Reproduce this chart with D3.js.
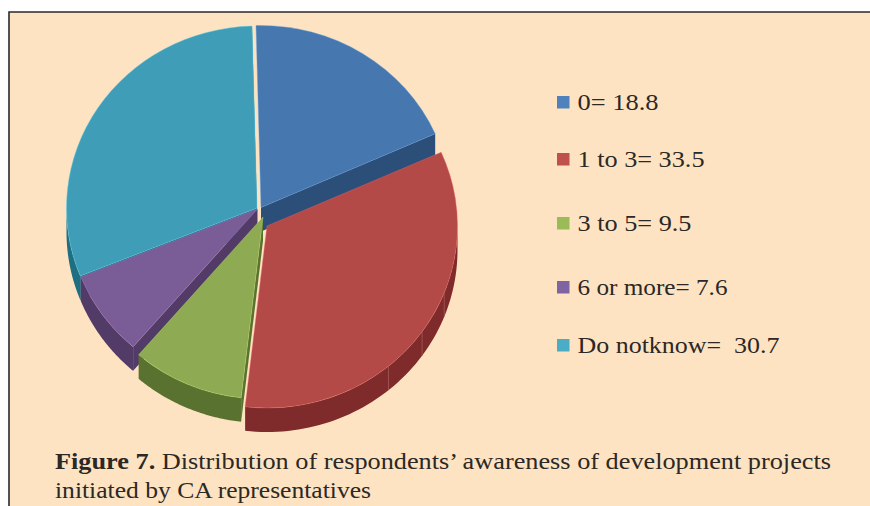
<!DOCTYPE html>
<html>
<head>
<meta charset="utf-8">
<script src="https://cdn.jsdelivr.net/npm/d3@7"></script>
<style>
  html, body { margin: 0; padding: 0; background: #fff; }
  svg { display: block; }
  text { font-family: "Liberation Serif", serif; fill: #2b2826; white-space: pre; }
</style>
</head>
<body>
<div id="container"></div>
<script>
/* 1. DATA */
const categories = ["0", "1 to 3", "3 to 5", "6 or more", "Do notknow"];
const values = [18.8, 33.5, 9.5, 7.6, 30.7];
const legendLabels = ["0= 18.8", "1 to 3= 33.5", "3 to 5= 9.5", "6 or more= 7.6", "Do notknow=  30.7"];

/* 2. LAYOUT AND STYLE */
const width = 870, height = 506;
const rx = 190.5, ry = 182, depth = 24;
const startAngle = -1.5 * Math.PI / 180;

// each slice is pulled out of the pie by its own amount
const sliceCenters = [[261, 207.5], [267, 226], [263, 217], [257.5, 209], [257, 208]];
const topColors = ["#4677ae", "#b34a48", "#8eaa52", "#7a5c96", "#3f9db7"];
const sideColors = ["#2c4f7a", "#7f2a2b", "#5a722f", "#533b68", "#1f6f83"];
const swatchColors = ["#4f81bd", "#c0504d", "#9bbb59", "#8064a2", "#4bacc6"];
const legendRows = [102, 159, 223, 287, 345];
const legendWidths = [81, 127, 114, 150, 202];
const redSeams = [111.5, 125.5, 140.4];
const drawOrder = [4, 0, 3, 2, 1]; // back to front

const svg = d3.select("#container").append("svg")
  .attr("width", width)
  .attr("height", height);

// page frame
svg.append("rect").attr("width", width).attr("height", height).attr("fill", "#fff");
svg.append("rect")
  .attr("x", 9).attr("y", 12)
  .attr("width", width - 9).attr("height", height - 12)
  .attr("fill", "#fde3c1");
svg.append("path")
  .attr("d", `M9,${height}V12H${width}`)
  .attr("fill", "none")
  .attr("stroke", "#2a2a2a")
  .attr("stroke-width", 1.6);

/* 3. PIE */
const pie = d3.pie().sort(null)
  .startAngle(startAngle)
  .endAngle(startAngle + 2 * Math.PI);
const slices = pie(values);

const arc = d3.arc().innerRadius(0).outerRadius(rx);

// extruded wall between two edges, both dropped by depth
const wall = d3.area()
  .x(d => d.x)
  .y0(d => d.y)
  .y1(d => d.y + depth);

const rim = (a, c) => ({x: c[0] + rx * Math.sin(a), y: c[1] - ry * Math.cos(a)});
const apex = c => ({x: c[0], y: c[1]});
const right = Math.PI / 2, left = 3 * Math.PI / 2;

const pieG = svg.append("g");

drawOrder.forEach(i => {
  const s = slices[i], c = sliceCenters[i];
  const g = pieG.append("g");

  // radial walls, only the ones that face the viewer
  if (Math.cos(s.startAngle) < 0) {
    g.append("path").attr("d", wall([apex(c), rim(s.startAngle, c)])).attr("fill", sideColors[i]);
  }
  if (Math.cos(s.endAngle) > 0) {
    g.append("path").attr("d", wall([apex(c), rim(s.endAngle, c)])).attr("fill", sideColors[i]);
  }

  // outer wall on the lower half of the rim
  const a0 = Math.max(s.startAngle, right), a1 = Math.min(s.endAngle, left);
  if (a1 > a0) {
    g.append("path")
      .attr("d", wall(d3.range(0, 61).map(t => rim(a0 + (a1 - a0) * t / 60, c))))
      .attr("fill", sideColors[i]);
  }

  g.append("path")
    .attr("d", arc(s))
    .attr("transform", `translate(${c[0]},${c[1]}) scale(1,${ry / rx})`)
    .attr("fill", topColors[i])
    .attr("stroke", d3.color(topColors[i]).brighter(0.8))
    .attr("stroke-width", 0.4);
});

// faint seams on the red wall
redSeams.forEach(deg => {
  const p = rim(deg * Math.PI / 180, sliceCenters[1]);
  pieG.append("line")
    .attr("x1", p.x).attr("x2", p.x)
    .attr("y1", p.y).attr("y2", p.y + depth)
    .attr("stroke", "#a8625f")
    .attr("stroke-width", 0.7);
});

/* 4. LEGEND */
const legend = svg.selectAll("g.legend")
  .data(categories)
  .join("g")
  .attr("class", "legend")
  .attr("transform", (d, i) => `translate(557,${legendRows[i]})`);

legend.append("rect")
  .attr("y", -6)
  .attr("width", 12.5).attr("height", 12.5)
  .attr("fill", (d, i) => swatchColors[i]);

legend.append("text")
  .attr("x", 20.5)
  .attr("y", 8)
  .attr("font-size", 24)
  .attr("textLength", (d, i) => legendWidths[i])
  .attr("lengthAdjust", "spacingAndGlyphs")
  .text((d, i) => legendLabels[i]);

/* 5. CAPTION */
const caption = svg.append("text")
  .attr("x", 55)
  .attr("y", 469)
  .attr("font-size", 24)
  .attr("textLength", 776)
  .attr("lengthAdjust", "spacingAndGlyphs");
caption.append("tspan").attr("font-weight", "bold").text("Figure 7.");
caption.append("tspan").text(" Distribution of respondents\u2019 awareness of development projects");

svg.append("text")
  .attr("x", 55)
  .attr("y", 498)
  .attr("font-size", 24)
  .attr("textLength", 316)
  .attr("lengthAdjust", "spacingAndGlyphs")
  .text("initiated by CA representatives");
</script>
</body>
</html>
